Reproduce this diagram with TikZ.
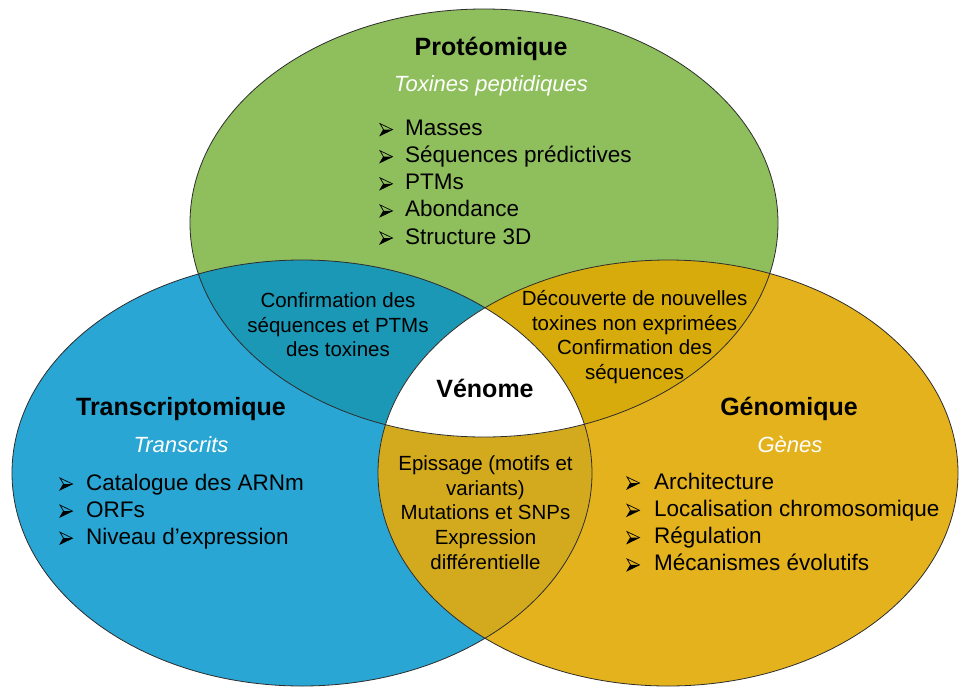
\documentclass[tikz,border=0pt]{standalone}
\usepackage{fontspec}
\setmainfont{Liberation Sans}

\definecolor{protvert}{RGB}{143,190,92}
\definecolor{transbleu}{RGB}{41,166,211}
\definecolor{genjaune}{RGB}{228,178,29}
\definecolor{vertbleu}{RGB}{27,152,182}
\definecolor{vertjaune}{RGB}{215,171,11}
\definecolor{bleujaune}{RGB}{211,170,30}
\definecolor{contour}{RGB}{45,45,45}

\def\ellprot{(484,223) ellipse [x radius=294pt, y radius=214pt]}
\def\elltrans{(302,473) ellipse [x radius=290pt, y radius=213pt]}
\def\ellgen{(668,473) ellipse [x radius=290pt, y radius=213pt]}

\tikzset{flechepuce/.pic={
	\fill[black] (0,6) -- (3.5,0) -- (12.5,0) -- cycle;
	\draw[black,line width=0.7pt,line join=miter] (0,-6) -- (12.5,0) -- (0,6) -- (3.5,0) -- cycle;
}}

\begin{document}
\begin{tikzpicture}[x=1pt,y=-1pt,
	titre/.style={anchor=base,font=\bfseries\fontsize{25}{30}\selectfont},
	sous/.style={anchor=base,text=white,font=\itshape\fontsize{22}{26}\selectfont},
	puce/.style={anchor=base west,inner sep=0pt,font=\fontsize{22.5}{27}\selectfont},
	zone/.style={align=center,font=\fontsize{20.5}{24.6}\selectfont}]
	\fill[white] (0,0) rectangle (959,686);
	\useasboundingbox (0,0) rectangle (959,686);
	% les trois ensembles
	\fill[protvert] \ellprot;
	\fill[transbleu] \elltrans;
	\fill[genjaune] \ellgen;
	% intersections
	\begin{scope}\clip \ellprot; \fill[vertbleu] \elltrans; \end{scope}
	\begin{scope}\clip \ellprot; \fill[vertjaune] \ellgen; \end{scope}
	\begin{scope}\clip \elltrans; \fill[bleujaune] \ellgen; \end{scope}
	\begin{scope}\clip \ellprot; \clip \elltrans; \fill[white] \ellgen; \end{scope}
	\draw[contour,line width=0.8pt] \ellprot \elltrans \ellgen;
	% Proteomique
	\node[titre] (prot) at (491,55) {Protéomique};
	\node[sous] (protsous) at (491,91.7) {Toxines peptidiques};
	\foreach \t [count=\i from 0] in {Masses,Séquences prédictives,PTMs,Abondance,Structure 3D}{
		\pic (fp\i) at (380,{129.6+27.1*\i}) {flechepuce};
		\node[puce] (p\i) at (405,{135.6+27.1*\i}) {\t};
	}
	% Transcriptomique
	\node[titre] (trans) at (181,415) {Transcriptomique};
	\node[sous] (transsous) at (181,452.7) {Transcrits};
	\foreach \t [count=\i from 0] in {Catalogue des ARNm,ORFs,Niveau d’expression}{
		\pic (ft\i) at (60,{484+27.1*\i}) {flechepuce};
		\node[puce] (t\i) at (86,{490+27.1*\i}) {\t};
	}
	% Genomique
	\node[titre] (gen) at (789,415) {Génomique};
	\node[sous] (gensous) at (790,452.7) {Gènes};
	\foreach \t [count=\i from 0] in {Architecture,Localisation chromosomique,Régulation,Mécanismes évolutifs}{
		\pic (fg\i) at (627,{483+27.3*\i}) {flechepuce};
		\node[puce] (g\i) at (654,{489+27.3*\i}) {\t};
	}
	% zones communes
	\node[zone] (pt) at (338,325) {Confirmation des\\séquences et PTMs\\des toxines};
	\node[zone] (pg) at (634.6,337) {Découverte de nouvelles\\toxines non exprimées\\Confirmation des\\séquences};
	\node[zone] (tg) at (485.5,512.6) {Epissage (motifs et\\variants)\\Mutations et SNPs\\Expression\\différentielle};
	\node[titre] (venome) at (485,397.3) {Vénome};
\end{tikzpicture}
\end{document}
